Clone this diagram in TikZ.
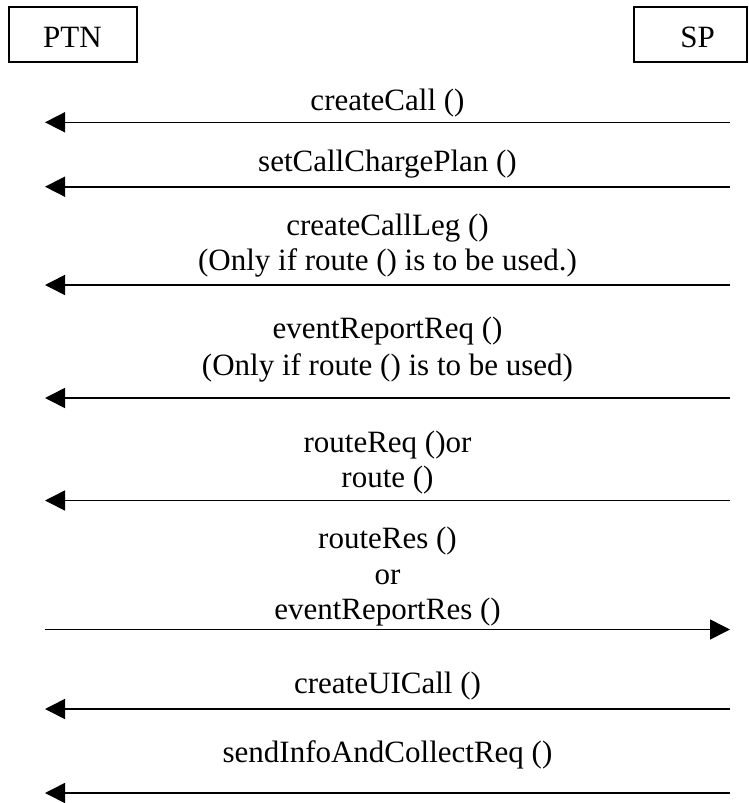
\documentclass[tikz,border=0pt]{standalone}
\usepackage{fontspec}
\setmainfont{Liberation Serif}
\usetikzlibrary{arrows.meta}
\begin{document}
\begin{tikzpicture}[x=1pt,y=-1pt,
  msg/.style={line width=1.6pt, -{Triangle[length=20pt,width=20pt]}},
  lbl/.style={anchor=base, inner sep=0pt, font=\fontsize{31}{36}\selectfont},
  actorbox/.style={draw, line width=1.5pt, inner sep=0pt}]
\useasboundingbox (0,0) rectangle (749,803);
% actors
\node[actorbox, minimum width=128pt, minimum height=55pt] (ptn) at (73,34.5) {};
\node[lbl] (ptntxt) at (72.5,47) {PTN};
\node[actorbox, minimum width=113pt, minimum height=55pt] (sp) at (690.5,34.5) {};
\node[lbl] (sptxt) at (697.5,47) {SP};
% arrow end points
\coordinate (p1) at (45,122.3);  \coordinate (s1) at (730,122.3);
\coordinate (p2) at (45,186.7);  \coordinate (s2) at (730,186.7);
\coordinate (p3) at (45,285);    \coordinate (s3) at (730,285);
\coordinate (p4) at (45,398);    \coordinate (s4) at (730,398);
\coordinate (p5) at (45,500.5);  \coordinate (s5) at (730,500.5);
\coordinate (p6) at (45,629.5);  \coordinate (s6) at (730,629.5);
\coordinate (p7) at (45,709);    \coordinate (s7) at (730,709);
\coordinate (p8) at (45,793);    \coordinate (s8) at (730,793);
% labels
\node[lbl] (m1) at (387.5,110.7) {createCall ()};
\node[lbl] (m2) at (387.5,171.7) {setCallChargePlan ()};
\node[lbl] (m3a) at (387.5,235) {createCallLeg ()};
\node[lbl] (m3b) at (387.5,270.7) {(Only if route () is to be used.)};
\node[lbl] (m4a) at (387.5,338) {eventReportReq ()};
\node[lbl] (m4b) at (387.5,375) {(Only if route () is to be used)};
\node[lbl] (m5a) at (387.5,452) {routeReq ()or};
\node[lbl] (m5b) at (387.5,487) {route ()};
\node[lbl] (m6a) at (387.5,548) {routeRes ()};
\node[lbl] (m6b) at (387.5,584) {or};
\node[lbl] (m6c) at (387.5,619) {eventReportRes ()};
\node[lbl] (m7) at (387.5,693) {createUICall ()};
\node[lbl] (m8) at (387.5,762) {sendInfoAndCollectReq ()};
% messages
\draw[msg] (s1) -- (p1);
\draw[msg] (s2) -- (p2);
\draw[msg] (s3) -- (p3);
\draw[msg] (s4) -- (p4);
\draw[msg] (s5) -- (p5);
\draw[msg] (p6) -- (s6);
\draw[msg] (s7) -- (p7);
\draw[msg] (s8) -- (p8);
\end{tikzpicture}
\end{document}
